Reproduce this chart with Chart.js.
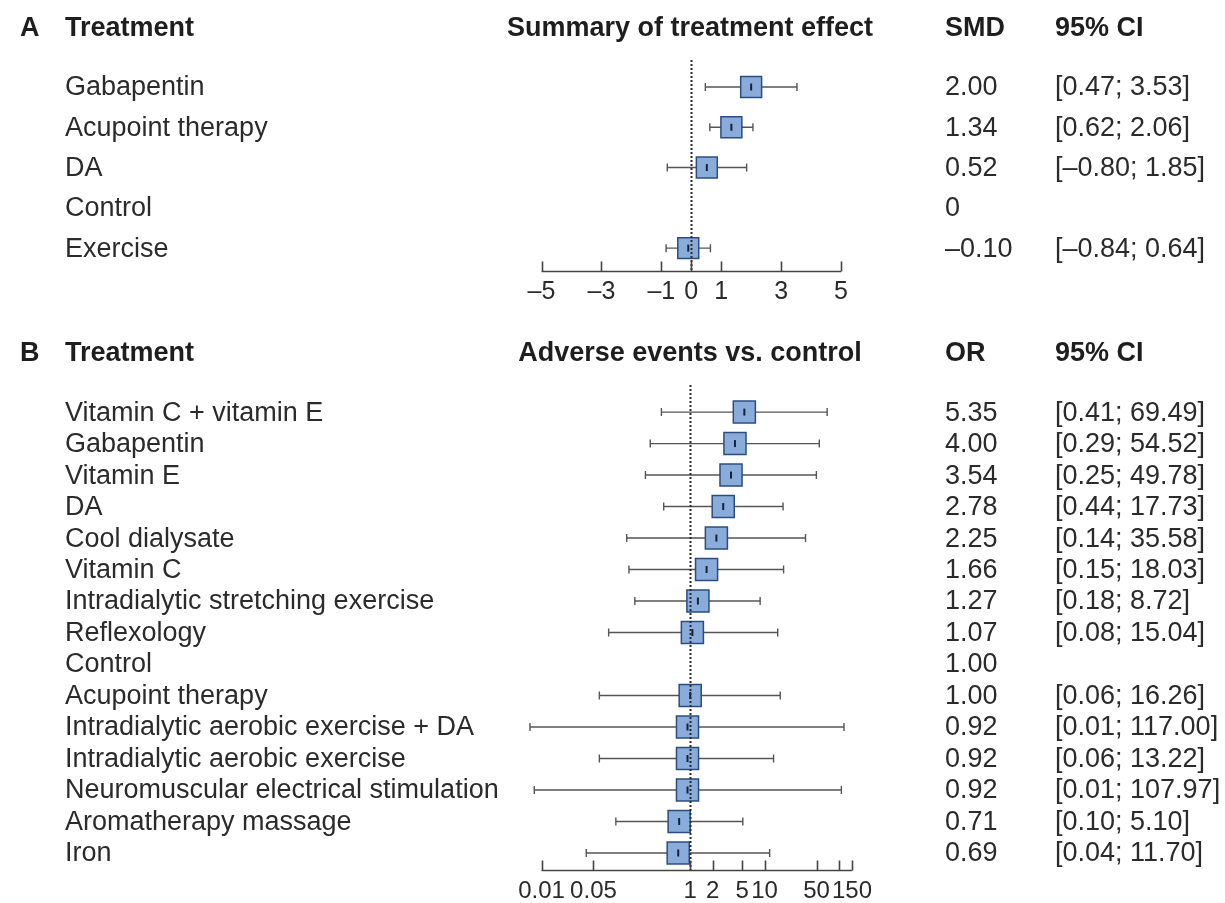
<!DOCTYPE html>
<html>
<head>
<meta charset="utf-8">
<script src="https://cdn.jsdelivr.net/npm/chart.js@4.4.1/dist/chart.umd.min.js"></script>
<style>
  html, body { margin: 0; padding: 0; background: #fff; }
  #wrap { position: relative; width: 1225px; height: 903px; }
  canvas { position: absolute; left: 0; }
  #chartA { top: 0; }
  #chartB { top: 320px; }
</style>
</head>
<body>
<div id="wrap">
  <canvas id="chartA" width="1225" height="320"></canvas>
  <canvas id="chartB" width="1225" height="583"></canvas>
</div>
<script>
// panel A: summary of treatment effect (SMD)
const namesA = ['Gabapentin', 'Acupoint therapy', 'DA', 'Control', 'Exercise'];
const smdA = [2.00, 1.34, 0.52, 0, -0.10];
const loA = [0.47, 0.62, -0.80, null, -0.84];
const hiA = [3.53, 2.06, 1.85, null, 0.64];
const ticksA = [-5, -3, -1, 0, 1, 3, 5];
const tickLabelsA = ['–5', '–3', '–1', '0', '1', '3', '5'];

// panel B: adverse events vs. control (OR)
const namesB = ['Vitamin C + vitamin E', 'Gabapentin', 'Vitamin E', 'DA', 'Cool dialysate',
  'Vitamin C', 'Intradialytic stretching exercise', 'Reflexology', 'Control', 'Acupoint therapy',
  'Intradialytic aerobic exercise + DA', 'Intradialytic aerobic exercise',
  'Neuromuscular electrical stimulation', 'Aromatherapy massage', 'Iron'];
const orB = [5.35, 4.00, 3.54, 2.78, 2.25, 1.66, 1.27, 1.07, 1.00, 1.00, 0.92, 0.92, 0.92, 0.71, 0.69];
const loB = [0.41, 0.29, 0.25, 0.44, 0.14, 0.15, 0.18, 0.08, null, 0.06, 0.007, 0.06, 0.008, 0.10, 0.04];
const hiB = [69.49, 54.52, 49.78, 17.73, 35.58, 18.03, 8.72, 15.04, null, 16.26, 117.00, 13.22, 107.97, 5.10, 11.70];
const ticksB = [0.01, 0.05, 1, 2, 5, 10, 50, 100, 150];
const tickLabelsB = ['0.01', '0.05', '1', '2', '5', '10', '50', '', '150'];

const FONT = '"Liberation Sans", Arial, Helvetica, sans-serif';
const TEXT = '#2b2b2b';

function fmt(v) {
  return v.toFixed(2).replace('-', '–');
}

const forestPlugin = {
  id: 'forest',
  beforeDatasetsDraw(chart, args, o) {
    const ctx = chart.ctx, xs = chart.scales.x, ys = chart.scales.y;
    ctx.save();
    ctx.strokeStyle = '#555';
    ctx.lineWidth = 1.4;
    o.lo.forEach((lo, i) => {
      if (lo == null) return;
      const y = ys.getPixelForValue(i);
      const x1 = xs.getPixelForValue(lo), x2 = xs.getPixelForValue(o.hi[i]);
      ctx.beginPath();
      ctx.moveTo(x1, y); ctx.lineTo(x2, y);
      ctx.moveTo(x1, y - 4); ctx.lineTo(x1, y + 4);
      ctx.moveTo(x2, y - 4); ctx.lineTo(x2, y + 4);
      ctx.stroke();
    });
    ctx.restore();
  },
  afterDatasetsDraw(chart, args, o) {
    const ctx = chart.ctx, xs = chart.scales.x, a = chart.chartArea;
    const x = Math.round(xs.getPixelForValue(o.ref)) + 0.5;
    ctx.save();
    ctx.strokeStyle = '#2a2a2a';
    ctx.lineWidth = 2;
    ctx.setLineDash([2, 2]);
    ctx.beginPath();
    ctx.moveTo(x, a.top); ctx.lineTo(x, a.bottom);
    ctx.stroke();
    ctx.restore();
  },
  afterDraw(chart, args, o) {
    const ctx = chart.ctx, xs = chart.scales.x, ys = chart.scales.y, a = chart.chartArea;
    ctx.save();
    // axis line with upward ticks
    ctx.strokeStyle = '#444';
    ctx.lineWidth = 1.6;
    const yb = Math.round(a.bottom) + 0.5;
    ctx.beginPath();
    ctx.moveTo(xs.getPixelForValue(o.ticks[0]), yb);
    ctx.lineTo(xs.getPixelForValue(o.ticks[o.ticks.length - 1]), yb);
    o.ticks.forEach(t => {
      const x = Math.round(xs.getPixelForValue(t)) + 0.5;
      ctx.moveTo(x, yb); ctx.lineTo(x, yb - 10);
    });
    ctx.stroke();
    ctx.fillStyle = TEXT;
    ctx.font = o.tickFont + 'px ' + FONT;
    ctx.textAlign = 'center';
    ctx.textBaseline = 'middle';
    o.ticks.forEach((t, i) => {
      ctx.fillText(o.tickLabels[i], xs.getPixelForValue(t), yb + 21);
    });
    // row texts
    ctx.font = '27px ' + FONT;
    ctx.textAlign = 'left';
    o.names.forEach((n, i) => {
      const y = ys.getPixelForValue(i) + 1;
      ctx.fillText(n, 65, y);
      ctx.fillText(o.valText[i], 945, y);
      if (o.lo[i] != null) ctx.fillText('[' + fmt(o.lo[i]) + '; ' + fmt(o.hi[i]) + ']', 1055, y);
    });
    // headers
    const yh = a.top - 31;
    ctx.fillStyle = '#1e1e1e';
    ctx.font = 'bold 27px ' + FONT;
    ctx.fillText(o.panel, 20, yh);
    ctx.fillText('Treatment', 65, yh);
    ctx.fillText(o.effLabel, 945, yh);
    ctx.fillText('95% CI', 1055, yh);
    ctx.textAlign = 'center';
    ctx.fillText(o.title, 690, yh);
    ctx.restore();
  }
};

function pts(vals, lo) {
  const out = [];
  vals.forEach((v, i) => { if (lo[i] != null) out.push({ x: v, y: i }); });
  return out;
}

function makeChart(id, cfg) {
  return new Chart(document.getElementById(id), {
    type: 'scatter',
    data: {
      datasets: [{
        // point estimate tick, drawn above the box
        data: pts(cfg.vals, cfg.lo),
        order: 0,
        pointStyle: 'line',
        pointRotation: 90,
        pointRadius: 3.5,
        pointHoverRadius: 3.5,
        pointBorderColor: '#15233a',
        pointBorderWidth: 2,
        clip: false
      }, {
        data: pts(cfg.vals, cfg.lo),
        order: 1,
        pointStyle: 'rect',
        pointRadius: cfg.box,
        pointHoverRadius: cfg.box,
        pointBackgroundColor: '#8aacda',
        pointBorderColor: '#2c4d7e',
        pointBorderWidth: 1.5,
        clip: false
      }]
    },
    options: {
      responsive: false,
      animation: false,
      events: [],
      layout: { padding: cfg.pad },
      scales: {
        x: cfg.x,
        y: { type: 'linear', reverse: true, min: cfg.ymin, max: cfg.ymax, display: false }
      },
      plugins: {
        legend: { display: false },
        tooltip: { enabled: false },
        forest: {
          lo: cfg.lo, hi: cfg.hi, ref: cfg.ref, names: cfg.names, valText: cfg.valText,
          ticks: cfg.ticks, tickLabels: cfg.tickLabels, tickFont: cfg.tickFont,
          panel: cfg.panel, title: cfg.title, effLabel: cfg.effLabel
        }
      }
    },
    plugins: [forestPlugin]
  });
}

makeChart('chartA', {
  names: namesA, vals: smdA, lo: loA, hi: hiA, ref: 0,
  valText: smdA.map(v => v === 0 ? '0' : fmt(v)),
  ticks: ticksA, tickLabels: tickLabelsA, tickFont: 25,
  panel: 'A', title: 'Summary of treatment effect', effLabel: 'SMD',
  box: 14.8,
  pad: { left: 541.5, right: 384, top: 60, bottom: 49.3 },
  ymin: -0.67, ymax: 4.56,
  x: { type: 'linear', min: -5, max: 5, display: false }
});

makeChart('chartB', {
  names: namesB, vals: orB, lo: loB, hi: hiB, ref: 1,
  valText: orB.map(fmt),
  ticks: ticksB, tickLabels: tickLabelsB, tickFont: 24,
  panel: 'B', title: 'Adverse events vs. control', effLabel: 'OR',
  box: 15.6,
  pad: { left: 541.5, right: 373, top: 65, bottom: 33 },
  ymin: -0.86, ymax: 14.54,
  x: { type: 'logarithmic', min: 0.01, max: 150, display: false }
});
</script>
</body>
</html>
